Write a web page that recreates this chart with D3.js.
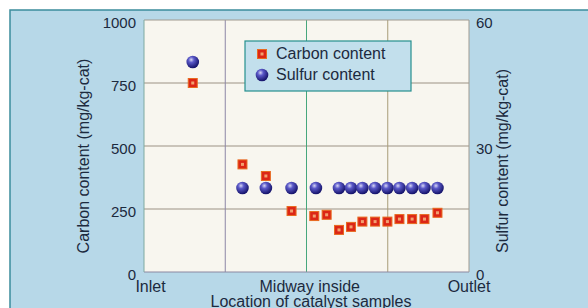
<!DOCTYPE html>
<html>
<head>
<meta charset="utf-8">
<script src="https://cdn.jsdelivr.net/npm/d3@7"></script>
<style>
  html, body { margin: 0; padding: 0; background: #fff; }
  text { font-family: "Liberation Sans", Arial, sans-serif; fill: #1c2a3e; }
</style>
</head>
<body>
<div id="graphic"></div>
<script>
// sample positions along the bed, 0 = inlet, 100 = outlet
var carbonPos = [15, 30.3, 37.5, 45.4, 52.4, 56.2, 60, 63.7, 67.2, 71.1, 74.9, 78.6, 82.5, 86.3, 90.3];
var carbon = [750, 427, 381, 242, 222, 227, 167, 179, 200, 200, 200, 210, 210, 210, 235];
var sulfurPos = [15, 30.3, 37.5, 45.4, 52.9, 60, 63.7, 67.2, 71.1, 74.9, 78.6, 82.5, 86.3, 90.3];
var sulfur = [50, 20, 20, 20, 20, 20, 20, 20, 20, 20, 20, 20, 20, 20];
var leftTicks = [0, 250, 500, 750, 1000];
var rightTicks = [0, 30, 60];
var xLabels = ["Inlet", "Midway inside", "Outlet"];
var xLabelPos = [2, 51, 100];
var xGrid = [25, 50, 75];
var xGridColors = ["#8c87a6", "#47a77c", "#a99c78"];

var width = 588, height = 308;
// note: "top" is taken by window.top, so plot edges get their own names
var plotL = 144, plotR = 469, plotT = 20, plotB = 272;

var svg = d3.select("#graphic").append("svg").attr("width", width).attr("height", height);

var x = d3.scaleLinear().domain([0, 100]).range([plotL, plotR]);
var yC = d3.scaleLinear().domain([0, 1000]).range([plotB, plotT]);
var yS = d3.scaleLinear().domain([0, 60]).range([plotB, plotT]);

var defs = svg.append("defs");
var grad = defs.append("radialGradient").attr("id", "ball").attr("cx", "38%").attr("cy", "32%").attr("r", "65%");
grad.append("stop").attr("offset", "0%").attr("stop-color", "#d6d6f4");
grad.append("stop").attr("offset", "35%").attr("stop-color", "#5a58c8");
grad.append("stop").attr("offset", "100%").attr("stop-color", "#18166e");

// blue panel
svg.append("rect").attr("x", 10).attr("y", 10).attr("width", 600).attr("height", 320)
  .attr("fill", "#b7d8e8").attr("stroke", "#3b8c9c").attr("stroke-width", 1.5);

// plot area
svg.append("rect").attr("x", plotL).attr("y", plotT).attr("width", plotR - plotL).attr("height", plotB - plotT)
  .attr("fill", "#f8f6ef");

svg.append("g").selectAll("line").data(leftTicks.slice(1, 4)).join("line")
  .attr("x1", plotL).attr("x2", plotR)
  .attr("y1", function(d) { return yC(d); }).attr("y2", function(d) { return yC(d); })
  .attr("stroke", "#9c9284").attr("stroke-width", 1);

svg.append("g").selectAll("line").data(xGrid).join("line")
  .attr("x1", function(d) { return x(d); }).attr("x2", function(d) { return x(d); })
  .attr("y1", plotT).attr("y2", plotB)
  .attr("stroke", function(d, i) { return xGridColors[i]; }).attr("stroke-width", 1);

// frame
svg.append("line").attr("x1", plotL).attr("x2", plotR).attr("y1", plotT).attr("y2", plotT).attr("stroke", "#a09a90");
svg.append("line").attr("x1", plotL).attr("x2", plotR).attr("y1", plotB).attr("y2", plotB).attr("stroke", "#8c88a0");
svg.append("line").attr("x1", plotL).attr("x2", plotL).attr("y1", plotT).attr("y2", plotB).attr("stroke", "#7fa9a0");
svg.append("line").attr("x1", plotR).attr("x2", plotR).attr("y1", plotT).attr("y2", plotB).attr("stroke", "#a09a90");

// tick labels
svg.append("g").selectAll("text").data(leftTicks).join("text")
  .attr("x", plotL - 8).attr("y", function(d) { return yC(d) + 8; })
  .attr("text-anchor", "end").attr("font-size", 15).text(function(d) { return d; });

svg.append("g").selectAll("text").data(rightTicks).join("text")
  .attr("x", plotR + 7).attr("y", function(d) { return yS(d) + 8; })
  .attr("font-size", 15).text(function(d) { return d; });

svg.append("g").selectAll("text").data(xLabels).join("text")
  .attr("x", function(d, i) { return x(xLabelPos[i]); }).attr("y", 292)
  .attr("text-anchor", "middle").attr("font-size", 16).text(function(d) { return d; });

svg.append("text").attr("x", 311).attr("y", 307).attr("text-anchor", "middle").attr("font-size", 16)
  .text("Location of catalyst samples");

svg.append("text").attr("transform", "translate(89,156) rotate(-90)").attr("text-anchor", "middle")
  .attr("font-size", 16).text("Carbon content (mg/kg-cat)");
svg.append("text").attr("transform", "translate(508,161) rotate(-90)").attr("text-anchor", "middle")
  .attr("font-size", 16).text("Sulfur content (mg/kg-cat)");

// markers
function square(g, cx, cy) {
  g.append("rect").attr("x", cx - 4.5).attr("y", cy - 4.5).attr("width", 9).attr("height", 9)
    .attr("fill", "#dc2616").attr("stroke", "#e86a20").attr("stroke-width", 1);
  g.append("rect").attr("x", cx - 1.5).attr("y", cy - 1.5).attr("width", 3).attr("height", 3)
    .attr("fill", "#f2a070");
}
function ball(g, cx, cy) {
  g.append("circle").attr("cx", cx).attr("cy", cy).attr("r", 6.3).attr("fill", "url(#ball)");
}

var sg = svg.append("g");
sulfur.forEach(function(d, i) { ball(sg, x(sulfurPos[i]), yS(d)); });
var cg = svg.append("g");
carbon.forEach(function(d, i) { square(cg, x(carbonPos[i]), yC(d)); });

// legend
var lg = svg.append("g");
lg.append("rect").attr("x", 245).attr("y", 41).attr("width", 166).attr("height", 50)
  .attr("fill", "#c2dfec").attr("stroke", "#25908e").attr("stroke-width", 1.2);
square(lg, 262, 54);
ball(lg, 262, 75);
lg.append("text").attr("x", 276).attr("y", 59).attr("font-size", 16).text("Carbon content");
lg.append("text").attr("x", 276).attr("y", 80).attr("font-size", 16).text("Sulfur content");
</script>
</body>
</html>
